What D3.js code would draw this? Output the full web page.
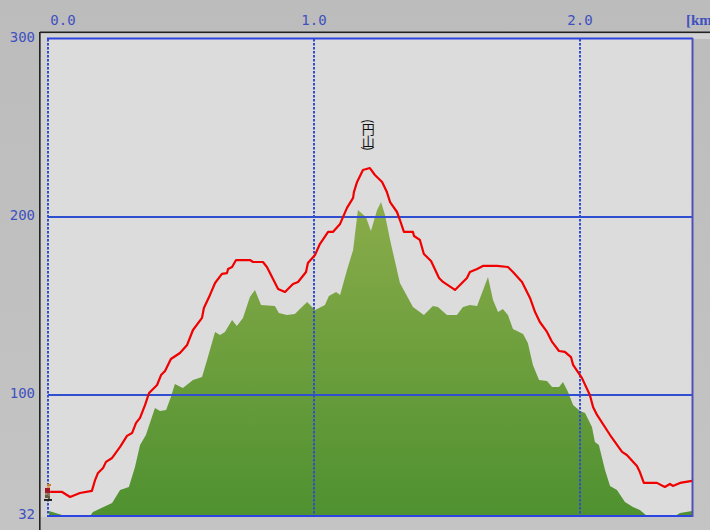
<!DOCTYPE html>
<html><head><meta charset="utf-8">
<script src="https://cdn.jsdelivr.net/npm/d3@7/dist/d3.min.js"></script>
<style>html,body{margin:0;padding:0;background:#bfbfbf;overflow:hidden}svg{display:block}</style>
</head><body><div id="chart"></div>
<script>
const terrainDist=[4,53,158,169,241,271,304,327,346,368,402,421,444,462,477,507,545,579,598,628,647,665,692,710,733,759,778,801,853,868,898,928,947,974,1004,1041,1056,1083,1098,1124,1147,1165,1195,1214,1237,1252,1267,1286,1323,1372,1413,1447,1466,1500,1537,1560,1586,1613,1654,1673,1692,1710,1729,1748,1786,1804,1823,1846,1876,1895,1921,1936,1955,1974,2000,2019,2045,2056,2071,2094,2113,2139,2169,2199,2225,2252,2357,2376,2421];
const terrainElev=[34.8,32.6,32,34.3,39.3,46.6,48.3,59.6,71.9,77.5,92.7,91,91.6,98.9,106.2,103.9,108.4,110.1,119.7,135.4,133.7,135.4,142.1,138.8,143.3,155.1,159,150.6,150,146.1,144.9,145.5,148.3,152.2,147.8,150.6,155.6,157.9,156.2,170.2,181.5,203.9,200,192.1,203.9,208.4,201.1,187.1,162.9,149.4,144.9,150,149.4,144.9,144.9,149.4,150.6,150,166.3,153.4,146.6,148.3,144.9,137,134.3,129.2,116.9,108.4,107.9,104.5,104.5,107.3,101.7,94.4,91,89.9,82,73.6,71.9,57.9,48.9,46.6,39.9,37.1,35.4,32,32,33.7,34.8];
const routeDist=[8,53,83,120,165,177,188,207,218,241,271,297,316,331,346,365,380,410,425,440,462,496,523,545,579,586,609,628,654,673,677,692,707,759,771,808,823,865,891,921,940,970,977,1004,1022,1053,1071,1098,1124,1147,1150,1162,1184,1210,1229,1256,1274,1286,1312,1323,1338,1372,1376,1398,1413,1440,1470,1485,1530,1575,1586,1613,1635,1688,1729,1748,1782,1812,1831,1849,1876,1895,1921,1943,1966,1974,2007,2037,2049,2064,2113,2158,2176,2214,2225,2240,2289,2319,2338,2349,2376,2421];
const routeElev=[45.5,45.5,42.7,44.9,46.1,52.2,56.2,59,62.4,64.6,70.8,77,78.6,84.3,87.1,94.4,101.1,105.6,111.2,113.5,120.2,123.6,128.1,136.5,143.3,148.9,156.2,162.9,168,168.5,170.8,171.9,175.8,175.8,174.7,174.7,171.9,159.6,157.9,162.4,163.5,169.1,174.2,178.7,184.8,191.6,191.6,196.1,205.1,210.7,214,219.7,226.4,227.5,223.6,219.7,214,208.4,202.8,198.3,191.6,191.6,189.3,187.1,179.2,175.3,165.7,163.5,159,165.7,169.1,170.8,172.5,172.5,171.9,169.1,163.5,154.5,146.6,141,135.4,129.8,124.7,124.2,121.3,116.9,109.6,100,93.3,88.8,77.5,68,66.3,60.1,56.7,50.6,50.6,48.3,50,48.9,50.6,51.7];
const elevTicks=[32,100,200,300];
const elevGrid=[100,200];
const distTicks=[0,1000,2000];
const distLabels=["0.0","1.0","2.0"];
const summitName="(円山)";
const summitDist=1200;
const unitLabel="[km";

const W=710,H=530;
const x=d3.scaleLinear().domain([0,2421]).range([48,692]);
const y=d3.scaleLinear().domain([32,300]).range([516,39]);
const svg=d3.select("#chart").append("svg").attr("width",W).attr("height",H);
const blue="#2f4fd0", txt="#3f51c0";

const defs=svg.append("defs");
const g=defs.append("linearGradient").attr("id","terr").attr("gradientUnits","userSpaceOnUse")
  .attr("x1",0).attr("x2",0).attr("y1",y(210)).attr("y2",y(32));
g.append("stop").attr("offset",0).attr("stop-color","#8bac4a");
g.append("stop").attr("offset",1).attr("stop-color","#4f9130");

const bg=defs.append("linearGradient").attr("id","bg").attr("x1",0).attr("x2",0).attr("y1",0).attr("y2",1);
bg.append("stop").attr("offset",0).attr("stop-color","#bcbcbc");
bg.append("stop").attr("offset",1).attr("stop-color","#c4c4c4");

svg.append("rect").attr("width",W).attr("height",H).attr("fill","url(#bg)");
svg.append("rect").attr("x",41).attr("y",33).attr("width",W-41).attr("height",6).attr("fill","#d2d2d2");
svg.append("rect").attr("x",41).attr("y",33).attr("width",7).attr("height",H-33-14+1).attr("fill","#d2d2d2");
svg.append("rect").attr("x",48).attr("y",39).attr("width",644).attr("height",477).attr("fill","#dcdcdc");
svg.append("rect").attr("x",40).attr("y",31.5).attr("width",670).attr("height",1.6).attr("fill","#222");
svg.append("rect").attr("x",39).attr("y",32).attr("width",1.6).attr("height",H-32).attr("fill","#222");

const area=d3.area().x((d,i)=>x(terrainDist[i])).y0(y(32)).y1(d=>y(d));
svg.append("path").datum(terrainElev).attr("d",area).attr("fill","url(#terr)");

svg.append("g").selectAll("line").data(elevGrid).join("line")
 .attr("x1",48).attr("x2",692).attr("y1",d=>y(d)).attr("y2",d=>y(d))
 .attr("stroke",blue).attr("stroke-width",2);
svg.append("g").selectAll("line").data(distTicks).join("line")
 .attr("x1",d=>x(d)).attr("x2",d=>x(d)).attr("y1",39).attr("y2",516)
 .attr("stroke",blue).attr("stroke-width",2).attr("stroke-dasharray","2.5 1.5");

// frame
svg.append("line").attr("x1",47).attr("x2",693).attr("y1",38.5).attr("y2",38.5).attr("stroke","#2c44e0").attr("stroke-width",2);
svg.append("line").attr("x1",47).attr("x2",693).attr("y1",516).attr("y2",516).attr("stroke","#2c44e0").attr("stroke-width",2);
svg.append("line").attr("x1",692.5).attr("x2",692.5).attr("y1",38).attr("y2",517).attr("stroke","#5050b8").attr("stroke-width",2);

const line=d3.line().x((d,i)=>x(routeDist[i])).y(d=>y(d));
svg.append("path").datum(routeElev).attr("d",line).attr("fill","none").attr("stroke","#f00000").attr("stroke-width",2.2).attr("stroke-linejoin","round");

const font="'DejaVu Sans Mono',monospace";
svg.append("g").selectAll("text").data(distTicks).join("text")
 .attr("x",d=>x(d)+(d===0?15:0)).attr("y",25).attr("text-anchor","middle")
 .attr("font-family",font).attr("font-size",14).attr("fill",txt).text((d,i)=>distLabels[i]);
svg.append("text").attr("x",686).attr("y",25).attr("font-family","'Liberation Serif',serif").attr("font-weight","bold")
 .attr("font-size",15).attr("fill",txt).text(unitLabel);
svg.append("g").selectAll("text").data(elevTicks).join("text")
 .attr("x",35).attr("y",d=>d===32?519:y(d)+3).attr("text-anchor","end")
 .attr("font-family",font).attr("font-size",14).attr("fill",txt).text(d=>d);

svg.append("text").attr("transform",`translate(${x(summitDist)+1},119)`)
 .style("writing-mode","vertical-rl").attr("font-family","'Noto Sans CJK JP'").attr("font-size",13).attr("letter-spacing","-1").attr("fill","#111").text(summitName);

// hiker icon at start of route
const h=svg.append("g").attr("transform",`translate(${x(0)},${y(routeElev[0])})`);
[[-1,-8,4,2,"#c8802a"],[-1,-6,3,2,"#e0a070"],[-3,-4,5,5,"#a01828"],[-3,1,2,2,"#a09070"],[-1,1,3,3,"#8a7a58"],[-3,3,3,3,"#6a5a40"],[0,4,2,3,"#6a5a40"],[-4,7,4,2,"#222"],[0,7,4,2,"#222"]]
 .forEach(r=>h.append("rect").attr("x",r[0]).attr("y",r[1]).attr("width",r[2]).attr("height",r[3]).attr("fill",r[4]));
</script></body></html>
